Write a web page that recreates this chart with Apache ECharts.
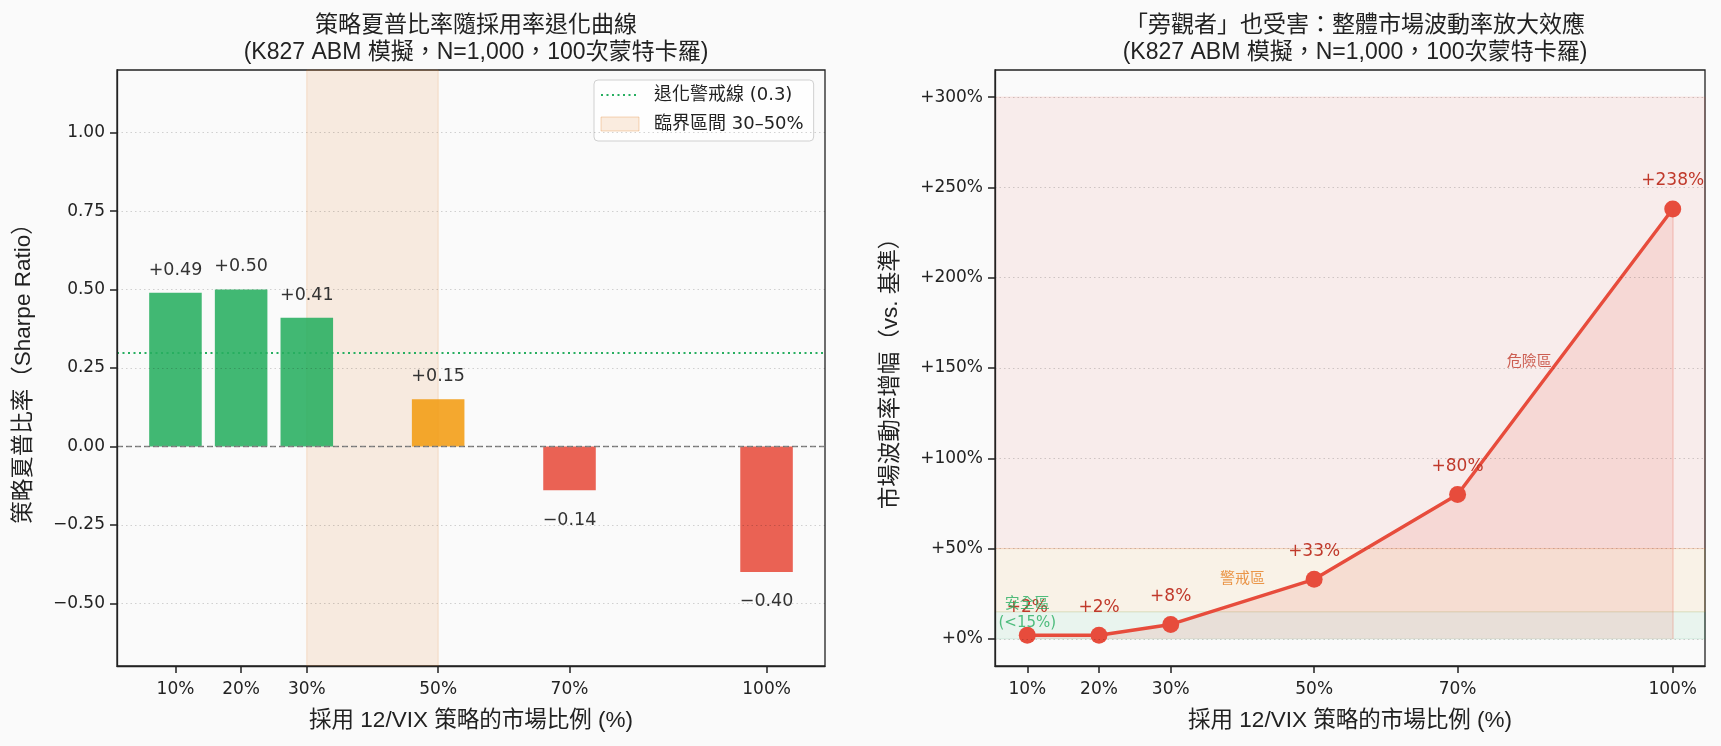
<!DOCTYPE html>
<html>
<head>
<meta charset="utf-8">
<script src="https://cdn.jsdelivr.net/npm/echarts@6/dist/echarts.min.js"></script>
<style>
  html, body { margin: 0; padding: 0; background: #fafafa; }
  #main { width: 1721px; height: 746px; }
</style>
</head>
<body>
<div id="main"></div>
<script>
// ---- data ----
const adoption = [10, 20, 30, 50, 70, 100]
const sharpe = [0.49, 0.50, 0.41, 0.15, -0.14, -0.40]
const sharpeTicks = [-0.5, -0.25, 0, 0.25, 0.5, 0.75, 1.0]
const volUplift = [2, 2, 8, 33, 80, 238]
const volTicks = [0, 50, 100, 150, 200, 250, 300]
const decayLine = 0.3
const criticalZone = [30, 50]
const zoneBounds = [[0, 15], [15, 50], [50, 300]]
const zoneNames = ['安全區\n(<15%)', '警戒區', '危險區']
const zoneLabelAt = [[10, 14], [40, 33], [80, 153]]

const FONT = "'DejaVu Sans', 'Noto Sans CJK TC', sans-serif"
const HEAD_FONT = "'Liberation Sans', 'Noto Sans CJK TC', sans-serif"
const INK = '#222'
const GREEN = '#27ae60'
const ORANGE = '#f39c12'
const RED = '#e74c3c'
const BAR_W = 8

const signed = v => (v < 0 ? '\u2212' : '+') + Math.abs(v).toFixed(2)
const plain = v => (v < 0 ? '\u2212' : '') + Math.abs(v).toFixed(2)
const barColor = v => v >= decayLine ? GREEN : (v > 0 ? ORANGE : RED)

function renderBar (params, api) {
  const x = api.value(0)
  const v = api.value(1)
  const base = api.coord([x - BAR_W / 2, 0])
  const tip = api.coord([x + BAR_W / 2, v])
  return {
    type: 'rect',
    shape: {
      x: base[0],
      y: Math.min(base[1], tip[1]),
      width: tip[0] - base[0],
      height: Math.abs(tip[1] - base[1])
    },
    style: { fill: barColor(v), opacity: 0.88 },
    textContent: {
      style: { text: signed(v), fill: '#333', fontSize: 17.5, fontFamily: FONT }
    },
    textConfig: { position: v >= 0 ? 'top' : 'bottom', distance: v >= 0 ? 14 : 21 }
  }
}

const gridLine = { show: true, lineStyle: { color: 'rgba(0,0,0,0.17)', type: [1.5, 3], width: 1 } }
const axisLine = { show: true, onZero: false, lineStyle: { color: INK, width: 1.3 } }
const tickStyle = { show: true, inside: false, length: 7, lineStyle: { color: INK, width: 1.5 } }
const nameStyle = { fontSize: 22.5, color: INK, fontFamily: HEAD_FONT }
const titleStyle = { fontSize: 23, fontWeight: 'normal', color: INK, lineHeight: 27, fontFamily: HEAD_FONT }
const zoneFill = ['rgba(39,174,96,0.08)', 'rgba(243,156,18,0.08)', 'rgba(231,76,60,0.08)']
const zoneEdge = ['rgba(39,174,96,0.12)', 'rgba(243,156,18,0.14)', 'rgba(231,76,60,0.12)']
const zoneText = [GREEN, '#e67e22', '#c0392b']
const last = adoption.length - 1

function ticks (values) {
  return {
    show: true, inside: false, length: 7,
    lineStyle: { color: INK, width: 1.5 },
    customValues: values
  }
}

const chart = echarts.init(document.getElementById('main'))
chart.setOption({
  backgroundColor: '#fafafa',
  animation: false,
  textStyle: { fontFamily: FONT },
  title: [
    {
      text: '策略夏普比率隨採用率退化曲線\n(K827 ABM 模擬，N=1,000，100次蒙特卡羅)',
      left: 471, top: 7, textAlign: 'center', textStyle: titleStyle
    },
    {
      text: '「旁觀者」也受害：整體市場波動率放大效應\n(K827 ABM 模擬，N=1,000，100次蒙特卡羅)',
      left: 1350, top: 7, textAlign: 'center', textStyle: titleStyle
    }
  ],
  legend: {
    left: 594, top: 80, orient: 'vertical',
    backgroundColor: 'rgba(255,255,255,0.8)',
    borderColor: '#d0d0d0', borderWidth: 1, borderRadius: 4,
    padding: [6, 10, 8, 6],
    itemWidth: 38, itemHeight: 14, itemGap: 11,
    textStyle: { fontSize: 18, color: INK, fontFamily: FONT, padding: [0, 0, 0, 10] },
    data: [
      { name: '退化警戒線 (0.3)', itemStyle: { opacity: 0 } },
      {
        name: '臨界區間 30–50%',
        icon: 'rect',
        itemStyle: { color: 'rgba(230,126,34,0.14)', borderColor: 'rgba(230,126,34,0.3)', borderWidth: 1 }
      }
    ]
  },
  grid: [
    { left: 117, top: 70, width: 708, height: 596, show: true, z: -1, backgroundColor: '#fafafa', borderColor: INK, borderWidth: 1.3 },
    { left: 995, top: 70, width: 710, height: 596, show: true, z: -1, backgroundColor: '#fafafa', borderColor: INK, borderWidth: 1.3 }
  ],
  xAxis: [
    {
      gridIndex: 0, type: 'value', min: 1.1, max: 108.9, position: 'bottom', z: 10,
      axisLine: axisLine, splitLine: { show: false },
      axisTick: ticks(adoption),
      axisLabel: { customValues: adoption, formatter: v => v + '%', margin: 15, fontSize: 17, color: INK, fontFamily: FONT },
      name: '採用 12/VIX 策略的市場比例 (%)', nameLocation: 'middle', nameGap: 44, nameTextStyle: nameStyle
    },
    {
      gridIndex: 1, type: 'value', min: 5.5, max: 104.5, position: 'bottom', z: 10,
      axisLine: axisLine, splitLine: { show: false },
      axisTick: ticks(adoption),
      axisLabel: { customValues: adoption, formatter: v => v + '%', margin: 15, fontSize: 17, color: INK, fontFamily: FONT },
      name: '採用 12/VIX 策略的市場比例 (%)', nameLocation: 'middle', nameGap: 44, nameTextStyle: nameStyle
    }
  ],
  yAxis: [
    {
      gridIndex: 0, type: 'value', min: -0.7, max: 1.2, position: 'left', z: 10,
      axisLine: axisLine, splitLine: gridLine,
      axisTick: ticks(sharpeTicks),
      axisLabel: { customValues: sharpeTicks, formatter: plain, margin: 12, fontSize: 17, color: INK, fontFamily: FONT },
      name: '策略夏普比率（Sharpe Ratio）', nameLocation: 'middle', nameRotate: 90, nameGap: 82, nameTextStyle: nameStyle
    },
    {
      gridIndex: 1, type: 'value', min: -15, max: 315, position: 'left', z: 10,
      axisLine: axisLine, splitLine: gridLine,
      axisTick: ticks(volTicks),
      axisLabel: { customValues: volTicks, formatter: v => '+' + v + '%', margin: 12, fontSize: 17, color: INK, fontFamily: FONT },
      name: '市場波動率增幅（vs. 基準）', nameLocation: 'middle', nameRotate: 90, nameGap: 93, nameTextStyle: nameStyle
    }
  ],
  series: [
    // left: critical zone
    {
      type: 'line', name: '臨界區間 30–50%', data: [], z: 1,
      xAxisIndex: 0, yAxisIndex: 0,
      itemStyle: { color: 'rgba(230,126,34,0.14)' },
      markArea: {
        silent: true,
        itemStyle: { color: 'rgba(230,126,34,0.12)', borderColor: 'rgba(230,126,34,0.2)', borderWidth: 1 },
        data: [[{ xAxis: criticalZone[0] }, { xAxis: criticalZone[1] }]]
      }
    },
    // left: sharpe bars
    {
      type: 'custom', name: 'sharpe', z: 3,
      xAxisIndex: 0, yAxisIndex: 0,
      renderItem: renderBar,
      encode: { x: 0, y: 1 },
      data: adoption.map((x, i) => [x, sharpe[i]])
    },
    // left: decay threshold line
    {
      type: 'line', name: '退化警戒線 (0.3)', data: [], z: 4,
      xAxisIndex: 0, yAxisIndex: 0,
      symbol: 'none',
      itemStyle: { color: GREEN },
      lineStyle: { color: GREEN, width: 1.8, type: [2, 3.5] },
      markLine: {
        silent: true, symbol: 'none', label: { show: false },
        lineStyle: { color: GREEN, width: 1.8, type: [2, 3.5] },
        data: [{ yAxis: decayLine }]
      }
    },
    // left: zero line
    {
      type: 'line', name: 'zero', data: [], z: 4,
      xAxisIndex: 0, yAxisIndex: 0,
      markLine: {
        silent: true, symbol: 'none', label: { show: false },
        lineStyle: { color: '#888', width: 1.4, type: [6, 3] },
        data: [{ yAxis: 0 }]
      }
    },
    // right: zone bands
    {
      type: 'line', name: 'zones', data: [], z: 1,
      xAxisIndex: 1, yAxisIndex: 1,
      markArea: {
        silent: true,
        data: zoneBounds.map((b, i) => [
          { yAxis: b[0], itemStyle: { color: zoneFill[i], borderColor: zoneEdge[i], borderWidth: 1 } },
          { yAxis: b[1] }
        ])
      }
    },
    // right: volatility uplift curve
    {
      type: 'line', name: 'vol', z: 3,
      xAxisIndex: 1, yAxisIndex: 1,
      data: adoption.map((x, i) => [x, volUplift[i]]),
      symbol: 'circle', symbolSize: 17,
      itemStyle: { color: RED },
      lineStyle: { color: RED, width: 3.4 },
      areaStyle: { color: 'rgba(231,76,60,0.18)' },
      label: {
        show: true, position: 'top', distance: 11,
        color: '#c0392b', fontSize: 17, fontFamily: FONT,
        formatter: p => '+' + p.value[1] + '%'
      },
      markLine: {
        silent: true, symbol: 'none', label: { show: false },
        lineStyle: { color: 'rgba(231,76,60,0.22)', width: 1.5, type: 'solid' },
        data: [[{ coord: [adoption[last], 0] }, { coord: [adoption[last], volUplift[last]] }]]
      }
    },
    // right: zone captions
    {
      type: 'scatter', name: 'zoneText', z: 5,
      xAxisIndex: 1, yAxisIndex: 1,
      symbolSize: 1,
      itemStyle: { color: 'rgba(0,0,0,0)' },
      label: { show: true, position: 'inside', fontSize: 15, lineHeight: 19, fontFamily: FONT },
      data: zoneLabelAt.map((c, i) => ({
        value: c,
        label: { formatter: zoneNames[i], color: zoneText[i] }
      }))
    }
  ]
})
</script>
</body>
</html>
